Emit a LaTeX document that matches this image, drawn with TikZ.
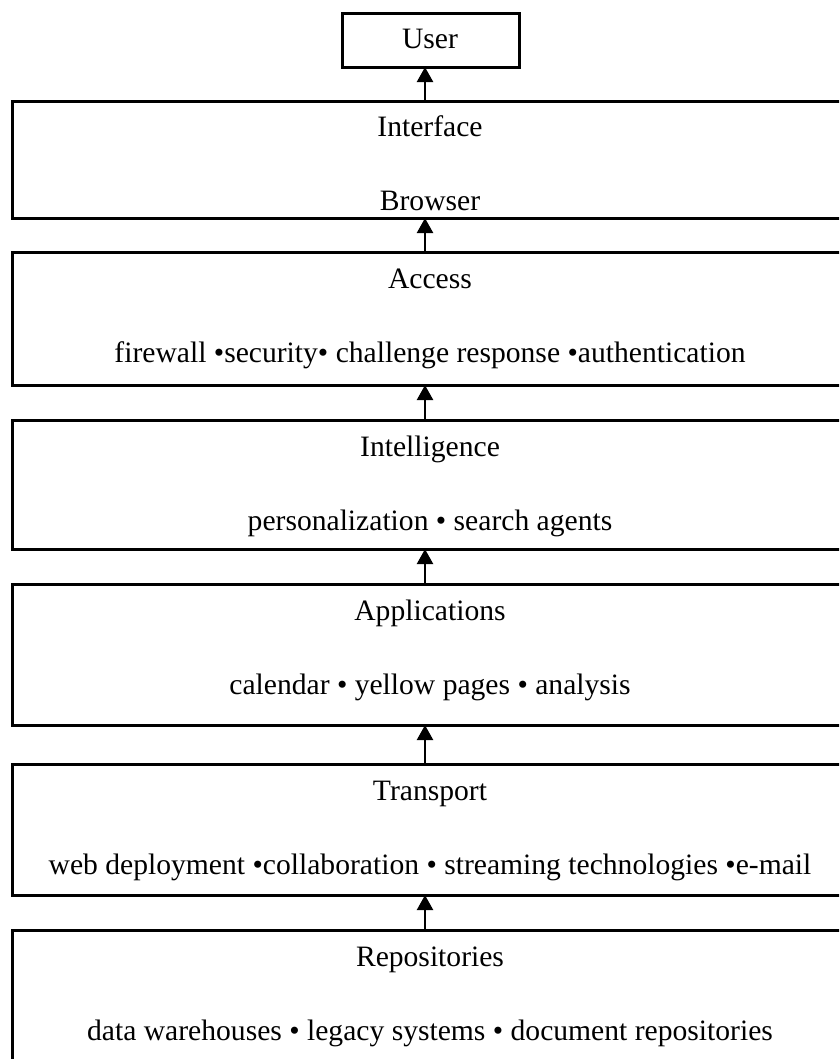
\documentclass[tikz,border=0pt]{standalone}
\usepackage{fontspec}
\setmainfont{Liberation Serif}
\usetikzlibrary{arrows.meta}
\begin{document}
\begin{tikzpicture}[x=1pt,y=-1pt,
  layer/.style={draw=black, line width=2.6pt, fill=white, inner sep=0pt, anchor=north west, minimum width=838pt},
  label/.style={inner sep=0pt, font=\fontsize{29.6}{36}\selectfont, anchor=base},
  up/.style={draw=black, line width=2.6pt, -{Triangle[length=15pt,width=16pt]}, shorten >=-1.5pt}
]
\useasboundingbox (0,0) rectangle (839,1059);
\clip (0,0) rectangle (839,1059);

% boxes of the stack; the layers run past the right and bottom edges
\node[layer, minimum width=177pt, minimum height=54pt] (user) at (341,12) {};
\node[layer, minimum height=117pt] (iface) at (11,100) {};
\node[layer, minimum height=133pt] (access) at (11,251) {};
\node[layer, minimum height=129pt] (intel) at (11,419) {};
\node[layer, minimum height=141pt] (apps) at (11,583) {};
\node[layer, minimum height=131pt] (trans) at (11,763) {};
\node[layer, minimum height=160pt] (repo) at (11,929) {};

% texts (positions are baselines)
\node[label] (tuser) at (430,49) {User};
\node[label] (tiface) at (430,137) {Interface};
\node[label] (siface) at (430,211) {Browser};
\node[label] (taccess) at (430,288) {Access};
\node[label] (saccess) at (430,362) {firewall •security• challenge response •authentication};
\node[label] (tintel) at (430,456) {Intelligence};
\node[label] (sintel) at (430,530) {personalization • search agents};
\node[label] (tapps) at (430,620) {Applications};
\node[label] (sapps) at (430,694) {calendar • yellow pages • analysis};
\node[label] (ttrans) at (430,800) {Transport};
\node[label] (strans) at (430,874) {web deployment •collaboration • streaming technologies •e-mail};
\node[label] (trepo) at (430,966) {Repositories};
\node[label] (srepo) at (430,1040) {data warehouses • legacy systems • document repositories};

% arrows between the layers
\coordinate (axis) at (425,0);
\draw[up] (iface.north -| axis) -- (user.south -| axis);
\draw[up] (access.north -| axis) -- (iface.south -| axis);
\draw[up] (intel.north -| axis) -- (access.south -| axis);
\draw[up] (apps.north -| axis) -- (intel.south -| axis);
\draw[up] (trans.north -| axis) -- (apps.south -| axis);
\draw[up] (repo.north -| axis) -- (trans.south -| axis);
\end{tikzpicture}
\end{document}
